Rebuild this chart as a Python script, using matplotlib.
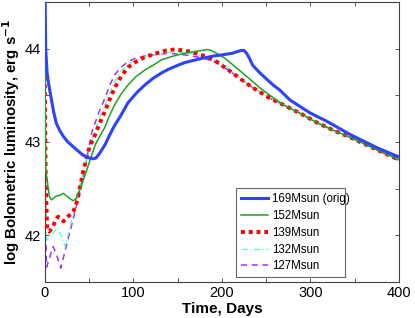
import matplotlib
matplotlib.use("Agg")
import matplotlib.pyplot as plt

plt.rcParams['font.family'] = ['Liberation Sans', 'DejaVu Sans']

# 169Msun (orig)
t169 = [0, 1, 2.5, 4, 7.5, 10, 13, 17, 21, 26, 32, 38, 43, 50, 55, 58, 62, 68, 73, 79, 85, 94, 104, 113, 122, 132, 140, 150, 158, 175, 190, 198, 205, 212, 218, 222, 225, 228, 231, 235, 243, 251, 258, 265, 277, 290, 300, 319, 332, 345, 360, 375, 390, 400]
v169 = [44.8, 44.0, 43.75, 43.64, 43.45, 43.32, 43.2, 43.12, 43.06, 43.0, 42.95, 42.9, 42.86, 42.83, 42.82, 42.83, 42.88, 42.97, 43.07, 43.18, 43.27, 43.42, 43.53, 43.61, 43.68, 43.74, 43.78, 43.82, 43.85, 43.89, 43.92, 43.93, 43.94, 43.95, 43.97, 43.98, 43.98, 43.95, 43.9, 43.82, 43.74, 43.67, 43.61, 43.56, 43.45, 43.37, 43.31, 43.22, 43.15, 43.08, 43.01, 42.94, 42.88, 42.84]

# 152Msun
t152 = [0, 1, 2.6, 5, 7.5, 10, 13, 17, 21, 26, 32, 35, 38, 42, 47, 52, 57, 62, 68, 73, 79, 86, 94, 103, 113, 122, 132, 145, 158, 170, 178, 183, 188, 194, 203, 212, 222, 232, 243, 250, 269, 290, 307, 325, 345, 370, 400]
v152 = [44.0, 42.7, 42.6, 42.42, 42.38, 42.4, 42.42, 42.43, 42.45, 42.41, 42.37, 42.39, 42.45, 42.55, 42.69, 42.83, 42.97, 43.06, 43.16, 43.28, 43.4, 43.51, 43.61, 43.7, 43.77, 43.82, 43.88, 43.92, 43.95, 43.97, 43.98, 43.99, 43.98, 43.95, 43.9, 43.83, 43.75, 43.67, 43.58, 43.53, 43.4, 43.3, 43.21, 43.13, 43.05, 42.94, 42.81]

# 139Msun
t139 = [0, 1, 2.6, 5, 9, 12, 15, 18, 21, 26, 32, 35, 38, 43, 49, 53, 57, 62, 68, 73, 79, 86, 94, 103, 113, 126, 137, 146, 158, 167, 181, 194, 212, 232, 254, 269, 290, 307, 325, 345, 370, 400]
v139 = [43.7, 42.6, 42.06, 42.04, 42.09, 42.16, 42.2, 42.18, 42.15, 42.2, 42.25, 42.32, 42.43, 42.67, 42.9, 43.0, 43.08, 43.2, 43.33, 43.45, 43.58, 43.7, 43.8, 43.86, 43.91, 43.95, 43.98, 43.99, 43.98, 43.96, 43.92, 43.86, 43.74, 43.6, 43.47, 43.4, 43.3, 43.21, 43.13, 43.05, 42.94, 42.81]

# 132Msun
t132 = [0, 1, 2, 5, 7.5, 11, 15, 19, 23, 28, 34, 40, 47, 53, 57, 62, 68, 73, 79, 86, 94, 103, 113, 128, 140, 155, 170, 185, 200, 212, 232, 254, 269, 290, 307, 325, 345, 370, 400]
v132 = [43.6, 42.5, 41.95, 41.97, 42.0, 42.05, 42.08, 41.98, 41.88, 42.06, 42.31, 42.56, 42.81, 43.0, 43.13, 43.27, 43.4, 43.52, 43.65, 43.76, 43.83, 43.88, 43.91, 43.94, 43.96, 43.96, 43.94, 43.9, 43.85, 43.75, 43.6, 43.47, 43.4, 43.3, 43.21, 43.13, 43.05, 42.94, 42.81]

# 127Msun
t127 = [0, 1, 2, 5, 9.4, 13, 18, 22, 26, 32, 36, 40, 47, 53, 57, 62, 68, 73, 79, 86, 94, 103, 113, 128, 141, 160, 179, 194, 212, 232, 254, 269, 290, 307, 325, 345, 370, 400]
v127 = [43.5, 42.0, 41.66, 41.75, 41.88, 41.8, 41.65, 41.8, 41.95, 42.17, 42.33, 42.49, 42.8, 43.1, 43.21, 43.34, 43.47, 43.6, 43.72, 43.8, 43.86, 43.9, 43.92, 43.94, 43.95, 43.93, 43.9, 43.85, 43.74, 43.6, 43.47, 43.4, 43.3, 43.21, 43.13, 43.05, 42.94, 42.8]

labels = ['169Msun (orig)', '152Msun', '139Msun', '132Msun', '127Msun']

fig = plt.figure(figsize=(4.15, 3.18), dpi=100)
ax = fig.add_axes([0.108, 0.113, 0.853, 0.881])

ax.plot(t169, v169, color='#2b45ff', lw=2.2, label=labels[0], zorder=5)
ax.plot(t152, v152, color='#1fa31f', lw=1.1, label=labels[1], zorder=4)
ax.plot(t139, v139, color='#ff0000', lw=2.8, ls=(0, (1.0, 1.0)), label=labels[2], zorder=3)
ax.plot(t132, v132, color='#4dffc0', lw=0.9, ls=(0, (5, 2, 1, 2)), label=labels[3], zorder=2)
ax.plot(t127, v127, color='#a033ff', lw=1.1, ls=(0, (4, 3)), label=labels[4], zorder=1)

ax.set_xlim(0, 400)
ax.set_ylim(41.5, 44.5)
ax.set_xticks([0, 50, 100, 150, 200, 250, 300, 350, 400])
ax.set_xticklabels(['0', '', '100', '', '200', '', '300', '', '400'])
ax.set_yticks([41.5, 42, 42.5, 43, 43.5, 44, 44.5])
ax.set_yticklabels(['', '42', '', '43', '', '44', ''])
ax.tick_params(direction='in', length=3, width=0.6, labelsize=10.5, top=True, right=True, colors='#404040', labelcolor='black', pad=3)
for s in ax.spines.values():
    s.set_linewidth(0.8)
    s.set_color('#404040')

ax.set_xlabel('Time, Days', fontsize=11, fontweight='bold', labelpad=1)
ax.set_ylabel('log Bolometric luminosity, erg s$^{\\mathbf{-1}}$', fontsize=10.8, fontweight='bold', labelpad=2)

leg = ax.legend(loc='lower left', bbox_to_anchor=(0.54, 0.018, 0.307, 0.336), mode='expand',
                fontsize=8.3, frameon=True, fancybox=False, borderaxespad=0, handlelength=2.4,
                handletextpad=0.3, labelspacing=0.42, borderpad=0.4)
leg.get_frame().set_edgecolor('#404040')
leg.get_frame().set_linewidth(0.8)

fig.savefig('out.png', dpi=100)
